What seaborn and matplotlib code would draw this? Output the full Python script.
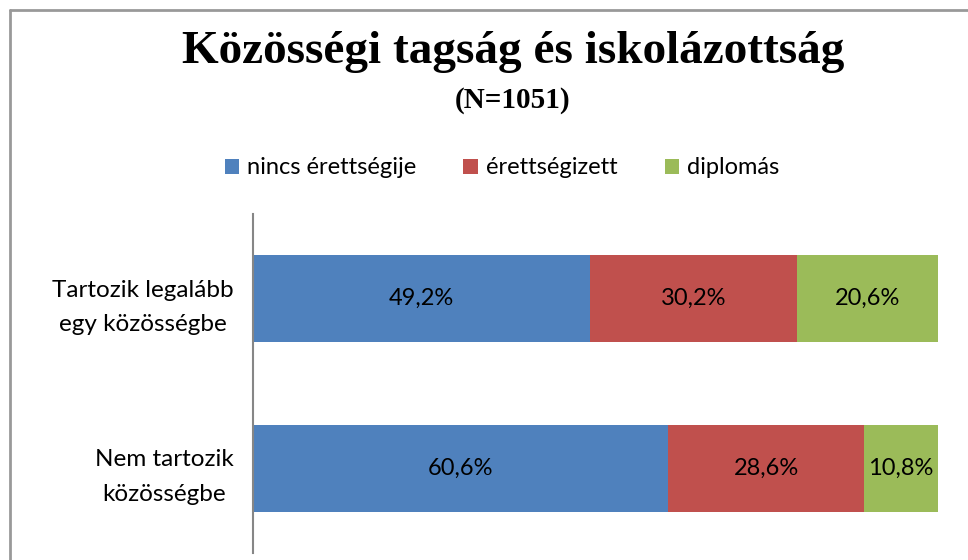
import numpy as np
import pandas as pd
import matplotlib
matplotlib.use("Agg")
import matplotlib.pyplot as plt
import seaborn as sns
from matplotlib.lines import Line2D
from matplotlib.patches import Patch

# data
groups = ["Tartozik legalább\negy közösségbe", "Nem tartozik\nközösségbe"]
series = ["nincs érettségije", "érettségizett", "diplomás"]
nincs = [49.2, 60.6]
erettsegi = [30.2, 28.6]
diplomas = [20.6, 10.8]
colors = ["#4F81BD", "#C0504D", "#9BBB59"]

sns.set_theme(style="white")
plt.rcParams["font.family"] = ["Lato", "DejaVu Sans"]
plt.rcParams["text.color"] = "black"
plt.rcParams["ytick.color"] = "black"

df = pd.DataFrame({"csoport": groups, series[0]: nincs, series[1]: erettsegi, series[2]: diplomas})
cum = df[series].cumsum(axis=1)

fig = plt.figure(figsize=(9.68, 5.6), dpi=100)
ax = fig.add_axes([253 / 968, (560 - 553) / 560, 685 / 968, 339 / 560])

# stacked bars: draw cumulative totals from the widest down
for s, c in reversed(list(zip(series, colors))):
    sns.barplot(x=cum[s], y=df["csoport"], color=c, width=0.515, orient="h",
                ax=ax, saturation=1, linewidth=0)

for i in range(len(df)):
    left = 0
    for s in series:
        v = df.loc[i, s]
        ax.text(left + v / 2, i, f"{v:.1f}%".replace(".", ","), ha="center", va="center",
                fontsize=17, color="black")
        left += v

ax.set_xlim(0, 100)
ax.set_ylim(1.5, -0.5)
ax.set_xlabel("")
ax.set_ylabel("")
ax.set_xticks([])
ax.set_yticks(range(len(groups)), labels=groups, multialignment="center", linespacing=1.8)
ax.tick_params(axis="y", length=0, pad=14, labelsize=17.5, labelcolor="black")
for sp in ["top", "right", "bottom"]:
    ax.spines[sp].set_visible(False)
ax.spines["left"].set_color("#868686")
ax.spines["left"].set_linewidth(1.5)

fig.text(513 / 968, 1 - 52 / 560, "Közösségi tagság és iskolázottság", ha="center", va="center",
         family="Liberation Serif", fontweight="bold", fontsize=34, color="black")
fig.text(513 / 968, 1 - 101 / 560, "(N=1051)", ha="center", va="center",
         family="Liberation Serif", fontweight="bold", fontsize=21, color="black")

handles = [Patch(facecolor=c, edgecolor="none") for c in colors]
fig.legend(handles, series, loc="center", bbox_to_anchor=(502 / 968, 1 - 168 / 560), ncol=3,
           frameon=False, fontsize=17, handlelength=0.6, handleheight=0.6, handletextpad=0.35,
           columnspacing=2.0)

# chart border (top and left visible in the crop)
fig.add_artist(Line2D([10 / 968, 1], [1 - 10 / 560] * 2, transform=fig.transFigure, color="#999999", lw=2))
fig.add_artist(Line2D([10 / 968] * 2, [0, 1 - 10 / 560], transform=fig.transFigure, color="#999999", lw=2))

fig.savefig("out.png", dpi=100)
